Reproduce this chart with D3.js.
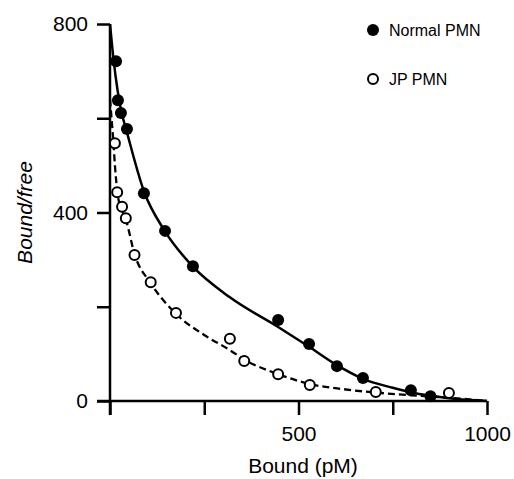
<!DOCTYPE html>
<html>
<head>
<meta charset="utf-8">
<script src="https://cdn.jsdelivr.net/npm/d3@7"></script>
<style>
  body { margin: 0; background: #fff; }
  svg text { font-family: "Liberation Sans", Arial, Helvetica, sans-serif; fill: #000; }
</style>
</head>
<body>
<article></article>
<script>
// measured points (Bound pM, Bound/free)
const normalBound = [16, 21, 29, 45, 90, 146, 220, 446, 528, 602, 671, 798, 850];
const normalRatio = [721, 638, 611, 577, 441, 361, 286, 172, 121, 74, 49, 23, 10];
const jpBound = [13, 19, 32, 42, 65, 108, 175, 318, 356, 446, 530, 705, 899];
const jpRatio = [547, 443, 412, 388, 310, 252, 187, 132, 85, 57, 34, 19, 17];

// fitted curves
const normalFitBound = [0, 10, 20, 30, 45, 90, 146, 220, 318, 446, 528, 602, 671, 750, 800, 900, 1000];
const normalFitRatio = [800, 720, 660, 615, 570, 445, 360, 285, 220, 157, 115, 76, 47, 28, 18, 6, 0];
const jpFitBound = [0, 8, 15, 22, 32, 42, 65, 108, 175, 250, 318, 356, 446, 530, 620, 705, 800, 900, 1000];
const jpFitRatio = [640, 560, 480, 430, 405, 385, 312, 250, 185, 140, 108, 88, 57, 36, 25, 18, 12, 7, 0];

const xTicks = [0, 250, 500, 750, 1000];
const xLabels = ["", "", "500", "", "1000"];
const yTicks = [0, 200, 400, 600, 800];
const yLabels = ["0", "", "400", "", "800"];

const legendNames = ["Normal PMN", "JP PMN"];

window.onload = function() {
    drawChart();
}

function drawChart() {
    const svg = d3.select('article')
        .append('svg')
        .attr('width', 514)
        .attr('height', 479);

    const x = d3.scaleLinear().domain([0, 1000]).range([110, 487]);
    const y = d3.scaleLinear().domain([0, 800]).range([401, 24]);

    //y axis
    const yAxis = svg.append('g')
        .attr('transform', 'translate(110,0)')
        .call(d3.axisLeft(y)
            .tickValues(yTicks)
            .tickSize(13)
            .tickPadding(9)
            .tickFormat((d, i) => yLabels[i]));
    //x axis
    const xAxis = svg.append('g')
        .attr('transform', 'translate(0,401)')
        .call(d3.axisBottom(x)
            .tickValues(xTicks)
            .tickSize(14)
            .tickPadding(11)
            .tickFormat((d, i) => xLabels[i]));

    svg.selectAll('.domain').remove();
    svg.selectAll('.tick line')
        .attr('stroke', '#000')
        .attr('stroke-width', 2.5);
    svg.selectAll('.tick text')
        .style('font-size', '21px');

    //axis lines
    svg.append('line')
        .attr('x1', x(0)).attr('x2', x(0))
        .attr('y1', y(800)).attr('y2', y(0) + 14)
        .attr('stroke', '#000').attr('stroke-width', 2.5);
    svg.append('line')
        .attr('x1', x(0) - 13).attr('x2', x(1000))
        .attr('y1', y(0)).attr('y2', y(0))
        .attr('stroke', '#000').attr('stroke-width', 2.5);

    //axis titles
    svg.append('text')
        .attr('x', 303)
        .attr('y', 473)
        .attr('text-anchor', 'middle')
        .style('font-size', '21px')
        .text('Bound (pM)');
    svg.append('text')
        .attr('transform', 'translate(32,' + y(400) + ') rotate(-90)')
        .attr('text-anchor', 'middle')
        .style('font-size', '21px')
        .style('font-style', 'italic')
        .text('Bound/free');

    //fit lines
    const line = d3.line()
        .x(d => x(d[0]))
        .y(d => y(d[1]))
        .curve(d3.curveMonotoneX);

    svg.append('path')
        .attr('d', line(jpFitBound.map((b, i) => [b, jpFitRatio[i]])))
        .attr('fill', 'none')
        .attr('stroke', '#000')
        .attr('stroke-width', 2.3)
        .attr('stroke-dasharray', '7,4');
    svg.append('path')
        .attr('d', line(normalFitBound.map((b, i) => [b, normalFitRatio[i]])))
        .attr('fill', 'none')
        .attr('stroke', '#000')
        .attr('stroke-width', 2.5);

    //points
    svg.append('g')
        .selectAll('circle')
        .data(jpBound.map((b, i) => [b, jpRatio[i]]))
        .join('circle')
        .attr('cx', d => x(d[0]))
        .attr('cy', d => y(d[1]))
        .attr('r', 5)
        .attr('fill', '#fff')
        .attr('stroke', '#000')
        .attr('stroke-width', 2);
    svg.append('g')
        .selectAll('circle')
        .data(normalBound.map((b, i) => [b, normalRatio[i]]))
        .join('circle')
        .attr('cx', d => x(d[0]))
        .attr('cy', d => y(d[1]))
        .attr('r', 6)
        .attr('fill', '#000');

    //legend
    svg.append('circle')
        .attr('cx', 373).attr('cy', 30).attr('r', 6)
        .attr('fill', '#000');
    svg.append('text')
        .attr('x', 389).attr('y', 36)
        .style('font-size', '16px')
        .text(legendNames[0]);
    svg.append('circle')
        .attr('cx', 373).attr('cy', 79).attr('r', 5)
        .attr('fill', '#fff')
        .attr('stroke', '#000')
        .attr('stroke-width', 2);
    svg.append('text')
        .attr('x', 389).attr('y', 85)
        .style('font-size', '16px')
        .text(legendNames[1]);
}
</script>
</body>
</html>
